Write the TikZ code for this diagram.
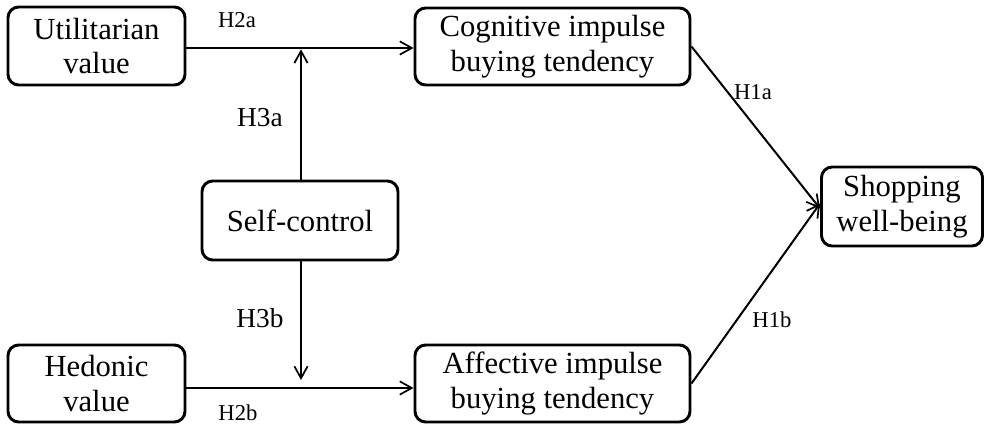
\documentclass[tikz,border=0pt]{standalone}
\usepackage{fontspec}
\setmainfont{Liberation Serif}
\usetikzlibrary{arrows.meta}
\begin{document}
\begin{tikzpicture}[x=0.75pt,y=-0.75pt,
  box/.style={draw, line width=2.2pt, rounded corners=8pt, align=center, inner sep=0pt,
    font=\fontsize{23}{26}\selectfont},
  conn/.style={line width=1.5pt, -{Straight Barb[length=9pt,width=10pt,line width=1.3pt]}},
  lbl/.style={font=\fontsize{17}{19}\selectfont, inner sep=0pt},
  lblb/.style={font=\fontsize{20.5}{23}\selectfont, inner sep=0pt}]
\useasboundingbox (0,0) rectangle (986,425);
\node[box, minimum width=177*0.75pt, minimum height=78*0.75pt] (U) at (96.5,46) {Utilitarian\\value};
\node[box, minimum width=275*0.75pt, minimum height=77*0.75pt] (C) at (552.5,46.5) {Cognitive impulse\\buying tendency};
\node[box, minimum width=196*0.75pt, minimum height=79*0.75pt] (S) at (300,220.5) {Self-control};
\node[box, minimum width=161*0.75pt, minimum height=79*0.75pt] (W) at (902,206.5) {Shopping\\well-being};
\node[box, minimum width=177*0.75pt, minimum height=77*0.75pt] (H) at (96.5,383.5) {Hedonic\\value};
\node[box, minimum width=275*0.75pt, minimum height=77*0.75pt] (A) at (552.5,383.5) {Affective impulse\\buying tendency};
\coordinate (mU) at (301,48);
\coordinate (mH) at (301,388);
\draw[conn] (U.east |- mU) -- (C.west |- mU);
\draw[conn] (H.east |- mH) -- (A.west |- mH);
\draw[conn] (S.north -| mU) -- ([yshift=-1pt]mU);
\draw[conn] (S.south -| mH) -- ([yshift=8*0.75pt]mH);
\draw[conn] (C.east) -- ([yshift=-2*0.75pt]W.west);
\draw[conn] (A.east) -- ([yshift=3*0.75pt]W.west);
\node[lbl] (l2a) at (237,20) {H2a};
\node[lblb] (l3a) at (260,118) {H3a};
\node[lbl] (l1a) at (753,92) {H1a};
\node[lbl] (l1b) at (772,320) {H1b};
\node[lblb] (l3b) at (260,318) {H3b};
\node[lbl] (l2b) at (238,413) {H2b};
\end{tikzpicture}
\end{document}
